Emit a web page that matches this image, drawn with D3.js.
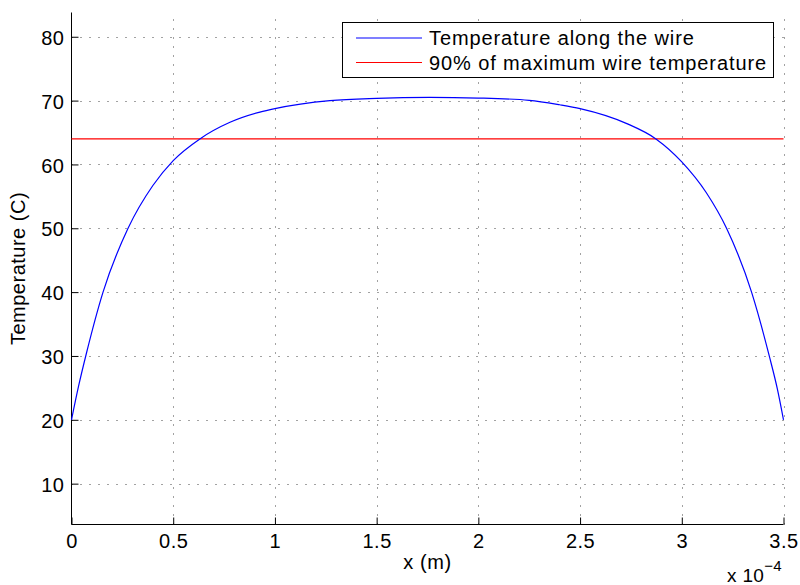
<!DOCTYPE html>
<html lang="en">
<head>
  <meta charset="UTF-8">
  <title>Temperature along the wire</title>
  <script src="https://d3js.org/d3.v7.min.js"></script>
  <style>
    body { margin: 0; background: #fff; }
    svg text { font-family: "Liberation Sans", Arial, Helvetica, sans-serif; fill: #000; }
    .grid line { stroke: #444; stroke-width: 1; stroke-dasharray: 1,8; }
  </style>
</head>
<body>
  <div id="chart"></div>
  <script>
    // Positions along the wire (x 10^-4 m) and temperature (C)
    const xValues = [0, 0.035, 0.074, 0.155, 0.278, 0.40, 0.5, 0.631, 0.779, 0.926, 1.0, 1.27, 1.5, 1.76, 2.0, 2.25, 2.4, 2.5, 2.73, 2.873, 3.0, 3.12, 3.22, 3.343, 3.43, 3.47, 3.5];
    const tempValues = [20, 25.3, 30.5, 40, 50, 56.7, 60.6, 64, 66.6, 68.2, 68.75, 70.0, 70.36, 70.5, 70.4, 70.05, 69.35, 68.75, 66.4, 64, 60.4, 55.6, 50, 40, 30, 24.8, 20];
    const threshold = 64; // 90% of maximum wire temperature

    const xTicks = [0, 0.5, 1, 1.5, 2, 2.5, 3, 3.5];
    const yTicks = [10, 20, 30, 40, 50, 60, 70, 80];
    const legendLabels = ["Temperature along the wire", "90% of maximum wire temperature"];
    const legendColors = ["#0000ff", "#ff0000"];

    const W = 800, H = 585;
    const pLeft = 71.5, pRight = 783.5, pTop = 12.5, pBottom = 524.5;

    const svg = d3.select("#chart").append("svg")
      .attr("width", W)
      .attr("height", H);

    const x = d3.scaleLinear().domain([0, 3.5]).range([pLeft, pRight]);
    const y = d3.scaleLinear().domain([3.6, 83.8]).range([pBottom, pTop]);

    // dotted grid
    const grid = svg.append("g").attr("class", "grid");
    grid.selectAll(".vg").data(xTicks.slice(1)).enter().append("line")
      .attr("x1", d => Math.round(x(d)) + 0.5).attr("x2", d => Math.round(x(d)) + 0.5)
      .attr("y1", pBottom).attr("y2", pTop);
    grid.selectAll(".hg").data(yTicks).enter().append("line")
      .attr("y1", d => Math.round(y(d)) + 0.5).attr("y2", d => Math.round(y(d)) + 0.5)
      .attr("x1", pLeft).attr("x2", pRight);

    // axes, ticks drawn inward
    const xAxis = svg.append("g")
      .attr("transform", `translate(0,${pBottom})`)
      .call(d3.axisBottom(x).tickValues(xTicks).tickSize(-7).tickFormat(d3.format("")));
    const yAxis = svg.append("g")
      .attr("transform", `translate(${pLeft},0)`)
      .call(d3.axisLeft(y).tickValues(yTicks).tickSize(-7).tickFormat(d3.format("")));

    [xAxis, yAxis].forEach(a => {
      a.select(".domain").attr("stroke", "#000");
      a.selectAll(".tick line").attr("stroke", "#000");
      a.selectAll(".tick text")
        .style("font-size", "20px")
        .style("letter-spacing", "0.5px");
    });
    xAxis.select(".domain").attr("d", `M${pLeft},0H${pRight}`);
    yAxis.select(".domain").attr("d", `M0,${pBottom}V${pTop}`);
    xAxis.selectAll(".tick text").attr("dy", "0.71em").attr("y", 9);
    yAxis.selectAll(".tick text").attr("dy", "0.38em").attr("x", -7);

    // curves
    const line = d3.line()
      .x(d => x(d[0]))
      .y(d => y(d[1]))
      .curve(d3.curveMonotoneX);

    const tempData = xValues.map((v, i) => [v, tempValues[i]]);

    svg.append("path")
      .datum([[0, threshold], [3.5, threshold]])
      .attr("fill", "none")
      .attr("stroke", legendColors[1])
      .attr("stroke-width", 1.2)
      .attr("d", line);

    svg.append("path")
      .datum(tempData)
      .attr("fill", "none")
      .attr("stroke", legendColors[0])
      .attr("stroke-width", 1.2)
      .attr("d", line);

    // axis labels
    svg.append("text")
      .attr("x", (pLeft + pRight) / 2)
      .attr("y", 569)
      .attr("text-anchor", "middle")
      .style("font-size", "20px")
      .style("letter-spacing", "0.6px")
      .text("x (m)");

    svg.append("text")
      .attr("transform", `translate(25,${(pTop + pBottom) / 2}) rotate(-90)`)
      .attr("text-anchor", "middle")
      .style("font-size", "20px")
      .style("letter-spacing", "0.5px")
      .text("Temperature (C)");

    const expo = svg.append("text")
      .attr("x", 727)
      .attr("y", 582)
      .style("font-size", "19px")
      .style("letter-spacing", "0.3px");
    expo.append("tspan").text("x 10");
    expo.append("tspan").attr("dy", -11).style("font-size", "15px").text("\u22124");

    // legend
    const legend = svg.append("g");
    legend.append("rect")
      .attr("x", 342.5).attr("y", 22.5)
      .attr("width", 431).attr("height", 55)
      .attr("fill", "#fff")
      .attr("stroke", "#000");

    legendLabels.forEach((label, i) => {
      const ly = 38 + i * 24.5;
      legend.append("line")
        .attr("x1", 356).attr("x2", 422)
        .attr("y1", ly).attr("y2", ly)
        .attr("stroke", legendColors[i])
        .attr("stroke-width", 1.2);
      legend.append("text")
        .attr("x", 429)
        .attr("y", ly + 7.2)
        .style("font-size", "20px")
        .style("letter-spacing", "0.9px")
        .text(label);
    });
  </script>
</body>
</html>
